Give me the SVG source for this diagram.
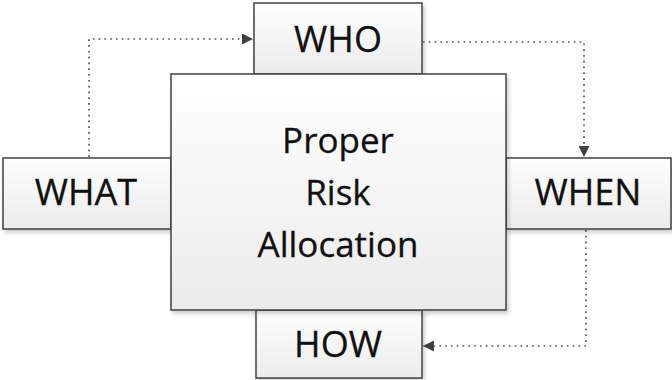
<svg xmlns="http://www.w3.org/2000/svg" width="672" height="380" viewBox="0 0 672 380">
  <defs>
    <linearGradient id="boxFill" x1="0" y1="0" x2="0" y2="1">
      <stop offset="0" stop-color="#ffffff"/>
      <stop offset="1" stop-color="#ebebeb"/>
    </linearGradient>
    <filter id="shadow" x="-10%" y="-10%" width="125%" height="130%">
      <feDropShadow dx="2" dy="3" stdDeviation="2" flood-color="#000" flood-opacity="0.2"/>
    </filter>
    <marker id="arrow" viewBox="0 0 10 10" refX="10" refY="5" markerWidth="11" markerHeight="11" markerUnits="userSpaceOnUse" orient="auto">
      <path d="M0,0 L10,5 L0,10 Z" fill="#404040"/>
    </marker>
    <style>
      .box { fill: url(#boxFill); stroke: #404040; stroke-width: 1.5; filter: url(#shadow); }
      .label { font-family: "Open Sans", "Noto Sans", sans-serif; font-size: 36px; fill: #111111; text-anchor: middle; stroke: #111111; stroke-width: 0.3; }
      .center { font-size: 35px; }
      .flow { fill: none; stroke: #555555; stroke-width: 1.7; stroke-dasharray: 1.7 4.1; }
    </style>
  </defs>

  <rect width="672" height="380" fill="#ffffff"/>

  <!-- connectors -->
  <g id="connectors">
    <path class="flow" d="M89,157 V39 H253" marker-end="url(#arrow)"/>
    <path class="flow" d="M423,42 H584 V157" marker-end="url(#arrow)"/>
    <path class="flow" d="M586,230 V346 H423" marker-end="url(#arrow)"/>
  </g>

  <g id="who">
    <rect class="box" x="254" y="3" width="168" height="71"/>
    <text class="label" x="338" y="52">WHO</text>
  </g>

  <g id="what">
    <rect class="box" x="3" y="158" width="168" height="71"/>
    <text class="label" x="86" y="205">WHAT</text>
  </g>

  <g id="when">
    <rect class="box" x="506" y="158" width="165" height="71"/>
    <text class="label" x="588" y="205">WHEN</text>
  </g>

  <g id="how">
    <rect class="box" x="256" y="310" width="166" height="68"/>
    <text class="label" x="338" y="357">HOW</text>
  </g>

  <g id="allocation">
    <rect class="box" x="171" y="74" width="335" height="236"/>
    <text class="label center" x="338" y="153">Proper</text>
    <text class="label center" x="338" y="205">Risk</text>
    <text class="label center" x="338" y="257">Allocation</text>
  </g>
</svg>
